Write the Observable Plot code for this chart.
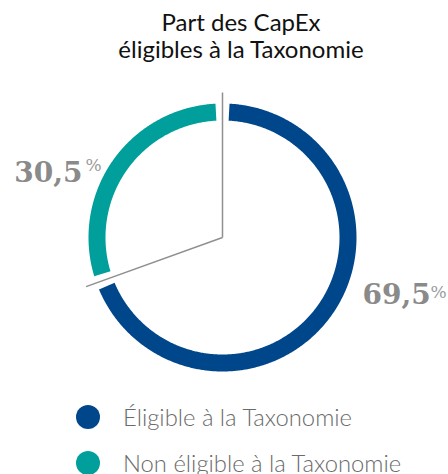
<!DOCTYPE html>
<html><head><meta charset="utf-8">
<script src="https://cdn.jsdelivr.net/npm/d3@7"></script>
<script src="https://cdn.jsdelivr.net/npm/@observablehq/plot@0.6"></script>
<style>
body{margin:0;background:#fff;width:448px;height:474px;overflow:hidden;font-family:Lato,sans-serif}
#title{position:absolute;left:0;top:8px;width:448px;padding-left:34px;box-sizing:border-box;text-align:center;font-size:24px;line-height:27px;color:#111}
#chart{position:absolute;left:0;top:70px}
.row{position:absolute;left:76px;display:flex;align-items:center;white-space:nowrap;height:22px}
.dot{width:24px;height:24px;border-radius:50%;flex:none}
.lab{margin-left:23px;font-size:23.8px;line-height:22px;font-weight:300;color:#6b6b6b}
</style></head><body>
<div id="title">Part des CapEx<br>éligibles à la Taxonomie</div>
<div id="chart"></div>
<div id="legend"></div>
<script>
const categories = ["Éligible à la Taxonomie", "Non éligible à la Taxonomie"];
const values = [69.5, 30.5];
const valueLabels = ["69,5", "30,5"];
const colors = ["#00468a", "#009f9b"];

// layout
const R_IN = 117 / 134, PAD = 3, LINE_R = 1.082;
const labelLayout = [{angle: 115.25, r: 1.155, anchor: "start", pdx: 68, pdy: -6},
                     {angle: 291.8, r: 1.125, anchor: "end", pdx: 3, pdy: -11}];
const rad = d => d * Math.PI / 180;
const polar = (a, r) => ({x: Math.sin(rad(a)) * r, y: Math.cos(rad(a)) * r});

let start = 0;
const slices = values.map((v, i) => {
  const a0 = start / 100 * 360, a1 = (start + v) / 100 * 360;
  start += v;
  return {cat: categories[i], a0, a1, label: valueLabels[i], ...labelLayout[i]};
});
const ring = slices.flatMap(s => {
  const pts = [];
  const b0 = s.a0 + PAD, b1 = s.a1 - PAD, n = Math.ceil((b1 - b0) * 2);
  for (let k = 0; k <= n; k++) pts.push({cat: s.cat, ...polar(b0 + (b1 - b0) * k / n, 1)});
  for (let k = n; k >= 0; k--) pts.push({cat: s.cat, ...polar(b0 + (b1 - b0) * k / n, R_IN)});
  return pts;
});
const bounds = slices.map(s => ({...polar(s.a0, LINE_R)}));
const labels = slices.map(s => ({...s, ...polar(s.angle, s.r)}));
const startLabels = labels.filter(d => d.anchor === "start");
const endLabels = labels.filter(d => d.anchor === "end");

const numStyle = {x: "x", y: "y", text: "label", lineAnchor: "bottom",
  fontFamily: "DejaVu Serif", fontWeight: "bold", fontSize: 28, fill: "#8a8a8a"};
const pctStyle = {x: "x", y: "y", text: () => "%", textAnchor: "start", lineAnchor: "bottom",
  fontFamily: "DejaVu Serif", fontWeight: 300, fontSize: 17, fill: "#9a9a9a"};

const cx = 222, cy = 167, R = 134;
const chart = Plot.plot({
  width: 448, height: 320,
  x: {domain: [-1, 1], range: [cx - R, cx + R], axis: null},
  y: {domain: [-1, 1], range: [cy + R, cy - R], axis: null},
  color: {domain: categories, range: colors},
  marks: [
    Plot.line(ring, {x: "x", y: "y", z: "cat", fill: "cat", stroke: "none", curve: "linear-closed"}),
    Plot.link(bounds, {x1: 0, y1: 0, x2: "x", y2: "y", stroke: "#8f8f8f", strokeWidth: 1.5}),
    Plot.text(startLabels, {...numStyle, textAnchor: "start"}),
    Plot.text(endLabels, {...numStyle, textAnchor: "end"}),
    Plot.text(startLabels, {...pctStyle, dx: startLabels[0].pdx, dy: startLabels[0].pdy}),
    Plot.text(endLabels, {...pctStyle, dx: endLabels[0].pdx, dy: endLabels[0].pdy})
  ]
});
document.getElementById("chart").appendChild(chart);

const legend = document.getElementById("legend");
categories.forEach((c, i) => {
  const row = document.createElement("div");
  row.className = "row";
  row.style.top = (406 + i * 46) + "px";
  row.innerHTML = `<div class="dot" style="background:${colors[i]}"></div><div class="lab">${c}</div>`;
  legend.appendChild(row);
});
</script>
</body></html>
